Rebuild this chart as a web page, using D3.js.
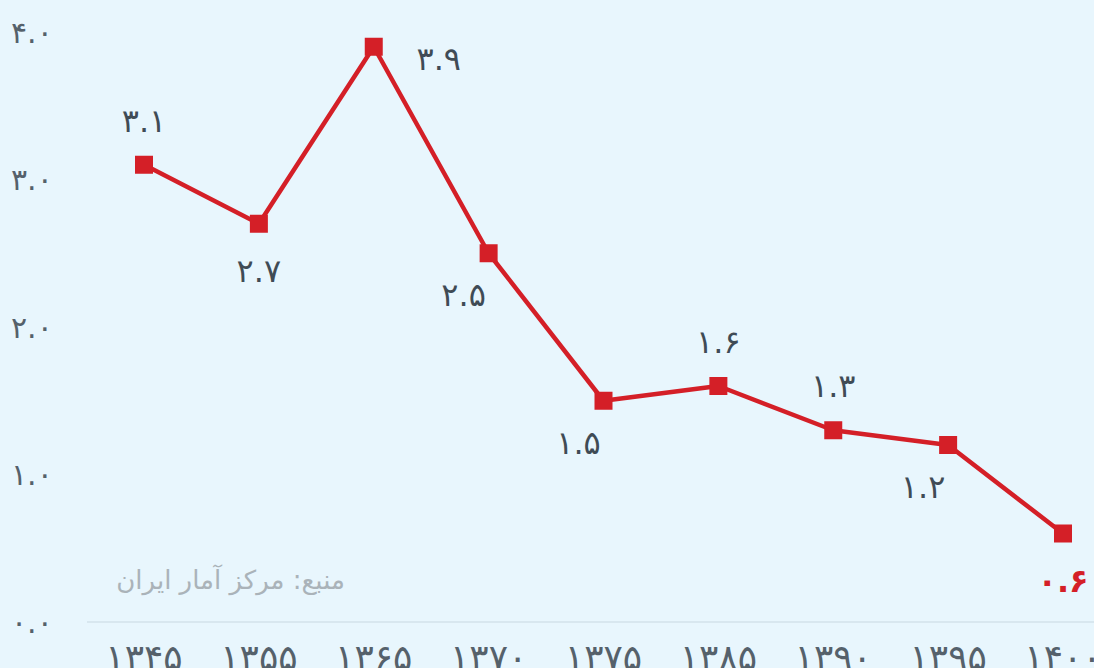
<!DOCTYPE html>
<html><head><meta charset="utf-8">
<script src="https://cdn.jsdelivr.net/npm/d3@7"></script>
<style>
html,body{margin:0;padding:0;background:#e8f6fd;}
svg{display:block;font-family:"DejaVu Sans","Noto Sans",sans-serif;}
</style></head>
<body>
<svg id="c" width="1094" height="668"></svg>
<script>
const categories = ["۱۳۴۵","۱۳۵۵","۱۳۶۵","۱۳۷۰","۱۳۷۵","۱۳۸۵","۱۳۹۰","۱۳۹۵","۱۴۰۰"];
const values = [3.1, 2.7, 3.9, 2.5, 1.5, 1.6, 1.3, 1.2, 0.6];
const yTicks = [0, 1, 2, 3, 4];
const labelPos = ["above","below","right","belowLeft","belowLeft","above","above","belowLeft","below"];
const sourceText = "منبع: مرکز آمار ایران";

const fa = s => String(s).replace(/[0-9]/g, d => "۰۱۲۳۴۵۶۷۸۹"[+d]);
const svg = d3.select("#c");
const W = 1094, H = 668;
const x = d3.scalePoint().domain(categories).range([144, 1063]);
const y = d3.scaleLinear().domain([0, 4]).range([622, 32]);

// baseline
svg.append("line").attr("x1", 87).attr("x2", W).attr("y1", y(0)).attr("y2", y(0))
  .attr("stroke", "#d3e2ea").attr("stroke-width", 1.5);

// y axis labels
svg.append("g").selectAll("text").data(yTicks).join("text")
  .attr("x", 11).attr("y", d => y(d)).attr("dy", "0.35em")
  .attr("font-size", 30).attr("fill", "#55616b").attr("letter-spacing", 2)
  .text(d => fa(d.toFixed(1)));

// x axis labels
svg.append("g").selectAll("text").data(categories).join("text")
  .attr("x", d => x(d)).attr("y", 670).attr("text-anchor", "middle")
  .attr("font-size", 36).attr("fill", "#55616b").attr("letter-spacing", 4)
  .text(d => d);

// source
svg.append("text").attr("x", 345).attr("y", 589).attr("text-anchor", "end")
  .attr("font-size", 26).attr("fill", "#aab3b9").text(sourceText);

const data = categories.map((c, i) => ({c, v: values[i], p: labelPos[i], i}));
const line = d3.line().x(d => x(d.c)).y(d => y(d.v));
svg.append("path").datum(data).attr("d", line).attr("fill", "none")
  .attr("stroke", "#d41f27").attr("stroke-width", 4.5).attr("stroke-linejoin", "round");

svg.append("g").selectAll("rect").data(data).join("rect")
  .attr("x", d => x(d.c) - 9).attr("y", d => y(d.v) - 9)
  .attr("width", 18).attr("height", 18).attr("fill", "#d41f27");

const off = {above:[0,-44], below:[0,47], right:[65,12], belowLeft:[-25,42]};
svg.append("g").selectAll("text").data(data).join("text")
  .attr("x", d => x(d.c) + off[d.p][0]).attr("y", d => y(d.v) + off[d.p][1])
  .attr("dy", "0.35em").attr("text-anchor", "middle")
  .attr("font-size", 32).attr("letter-spacing", 2)
  .attr("font-weight", d => d.i === data.length - 1 ? "bold" : "normal")
  .attr("fill", d => d.i === data.length - 1 ? "#d41f27" : "#3f4b55")
  .text(d => fa(d.v.toFixed(1)));
</script>
</body></html>
